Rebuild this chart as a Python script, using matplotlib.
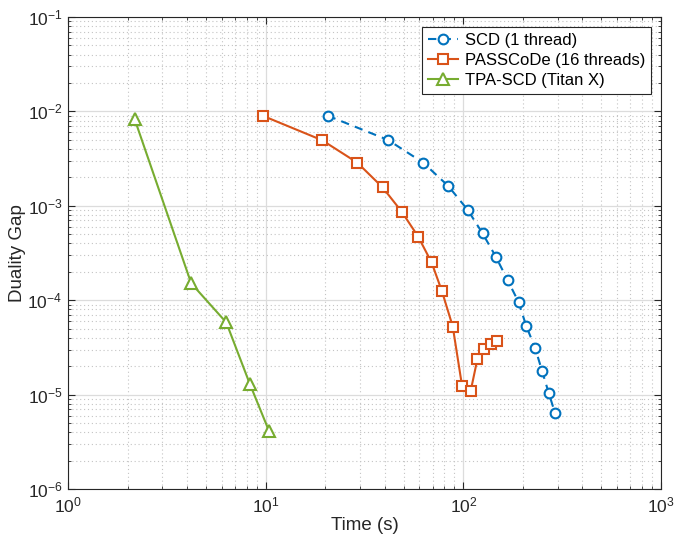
import matplotlib
matplotlib.use("Agg")
import matplotlib.pyplot as plt

# values (log-log)
scd_time = [20.6, 41.6, 62.7, 83.9, 105.3, 125.2, 146.0, 167.3, 190.2, 208.1, 231.1, 250.0, 270.0, 290.4]
scd_gap = [9.0e-3, 4.98e-3, 2.86e-3, 1.62e-3, 9.03e-4, 5.09e-4, 2.89e-4, 1.64e-4, 9.57e-5, 5.33e-5, 3.09e-5, 1.79e-5, 1.05e-5, 6.46e-6]

pass_time = [9.73, 19.3, 29.1, 39.0, 48.8, 59.1, 69.1, 78.0, 88.4, 98.5, 109.0, 117.8, 127.6, 137.7, 147.4]
pass_gap = [8.94e-3, 4.95e-3, 2.86e-3, 1.57e-3, 8.66e-4, 4.71e-4, 2.51e-4, 1.24e-4, 5.26e-5, 1.24e-5, 1.10e-5, 2.38e-5, 3.06e-5, 3.44e-5, 3.72e-5]

tpa_time = [2.17, 4.20, 6.32, 8.30, 10.4]
tpa_gap = [8.37e-3, 1.51e-4, 5.81e-5, 1.31e-5, 4.11e-6]

labels = ["SCD (1 thread)", "PASSCoDe (16 threads)", "TPA-SCD (Titan X)"]

plt.rcParams['font.family'] = ['Liberation Sans', 'DejaVu Sans']
plt.rcParams['mathtext.fontset'] = 'custom'
plt.rcParams['mathtext.rm'] = 'Liberation Sans'

fig = plt.figure(figsize=(6.75, 5.39), dpi=100)
ax = fig.add_axes([68/675, 1-489/539, (661-68)/675, (489-17)/539])

blue = "#0072BD"
orange = "#D95319"
green = "#77AC30"

ax.plot(scd_time, scd_gap, color=blue, lw=1.5, ls=(0, (4, 3)), marker='o',
        ms=7, mfc='white', mew=1.5, label=labels[0])
ax.plot(pass_time, pass_gap, color=orange, lw=1.5, marker='s',
        ms=7, mfc='white', mew=1.5, label=labels[1])
ax.plot(tpa_time, tpa_gap, color=green, lw=1.5, marker='^',
        ms=8, mfc='white', mew=1.5, label=labels[2])

ax.set_xscale('log')
ax.set_yscale('log')
ax.set_xlim(1, 1000)
ax.set_ylim(1e-6, 1e-1)

ax.grid(True, which='major', color='#dcdcdc', lw=0.9, ls='-')
ax.grid(True, which='minor', color='#c4c4c4', lw=0.8, ls=(0, (1, 2.5)))
ax.set_axisbelow(True)

ax.tick_params(which='both', direction='in', top=True, right=True, colors='#262626')
ax.tick_params(which='major', length=5, labelsize=12.5)
ax.tick_params(axis='y', which='major', pad=4)
ax.tick_params(axis='x', which='major', pad=5)
ax.tick_params(which='minor', length=2.5)
for s in ax.spines.values():
    s.set_color('#262626')
    s.set_linewidth(0.8)

ax.set_xlabel("Time (s)", fontsize=13.5, color='#262626', labelpad=1)
ax.set_ylabel("Duality Gap", fontsize=13.5, color='#262626', labelpad=1)

leg = ax.legend(loc='upper right', fontsize=12, fancybox=False, framealpha=1,
                edgecolor='#262626', handlelength=1.8, borderaxespad=0.6,
                labelspacing=0.3, handletextpad=0.4, borderpad=0.35)
leg.get_frame().set_linewidth(0.8)

fig.savefig("out.png", dpi=100)
